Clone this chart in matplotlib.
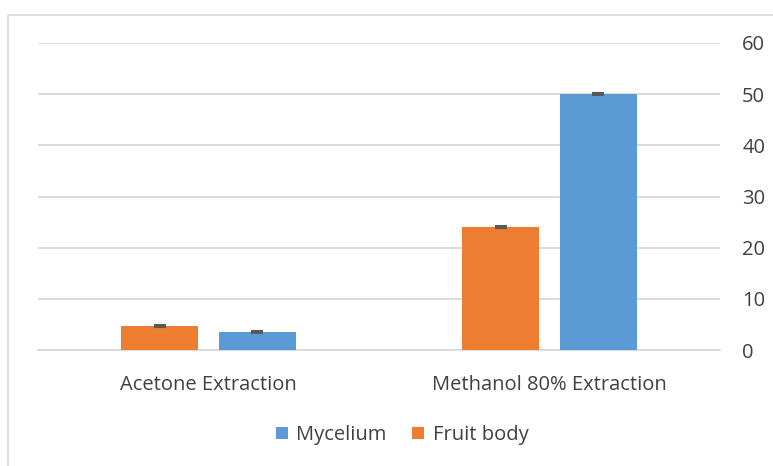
import matplotlib.pyplot as plt
import numpy as np
from matplotlib.patches import Rectangle

categories = ["Acetone Extraction", "Methanol 80% Extraction"]
fruit_body = [4.7, 24.1]
fruit_body_err = [0.2, 0.2]
mycelium = [3.5, 50.1]
mycelium_err = [0.2, 0.2]
yticks = [0, 10, 20, 30, 40, 50, 60]

ORANGE = "#ED7D31"
BLUE = "#5B9BD5"
GRID = "#d9d9d9"
TEXT = "#404040"

plt.rcParams["font.family"] = ["Open Sans", "DejaVu Sans"]

fig = plt.figure(figsize=(7.73, 4.66), dpi=100)
ax = fig.add_axes([38 / 773, 1 - 350 / 466, 682 / 773, 307 / 466])

# chart frame (cut off on the right and bottom like the original)
fig.patches.append(Rectangle((8 / 773, -0.1), 1.2, 1 - 15 / 466 + 0.1,
                             transform=fig.transFigure, fill=False,
                             edgecolor="#d9d9d9", linewidth=1.2))

x = np.arange(len(categories))
w = 0.226
gap = 0.06
off = (w + gap) / 2
err_kw = dict(ecolor="#595959", elinewidth=1.0, capsize=4, capthick=1.5)
ax.bar(x - off, fruit_body, w, yerr=fruit_body_err, color=ORANGE,
       label="Fruit body", error_kw=err_kw, zorder=3)
ax.bar(x + off, mycelium, w, yerr=mycelium_err, color=BLUE,
       label="Mycelium", error_kw=err_kw, zorder=3)

ax.set_xlim(-0.5, 1.5)
ax.set_ylim(0, 60)
ax.set_yticks(yticks)
ax.yaxis.tick_right()
ax.tick_params(axis="y", length=0, pad=16, labelsize=14.5, labelcolor=TEXT)
ax.set_xticks(x)
ax.set_xticklabels(categories)
ax.tick_params(axis="x", length=0, pad=18, labelsize=14.5, labelcolor=TEXT)
ax.grid(axis="y", color=GRID, linewidth=1.3, zorder=0)
for s in ["top", "right", "left"]:
    ax.spines[s].set_visible(False)
ax.spines["bottom"].set_color(GRID)
ax.spines["bottom"].set_linewidth(1.3)

handles, labels = ax.get_legend_handles_labels()
fig.legend(handles[::-1], labels[::-1], loc="center", bbox_to_anchor=(0.52, 1 - 435 / 466),
           ncol=2, frameon=False, fontsize=14.5, labelcolor=TEXT,
           handlelength=0.6, handleheight=0.6, handletextpad=0.4, columnspacing=1.3)

fig.savefig("out.png", dpi=100)
